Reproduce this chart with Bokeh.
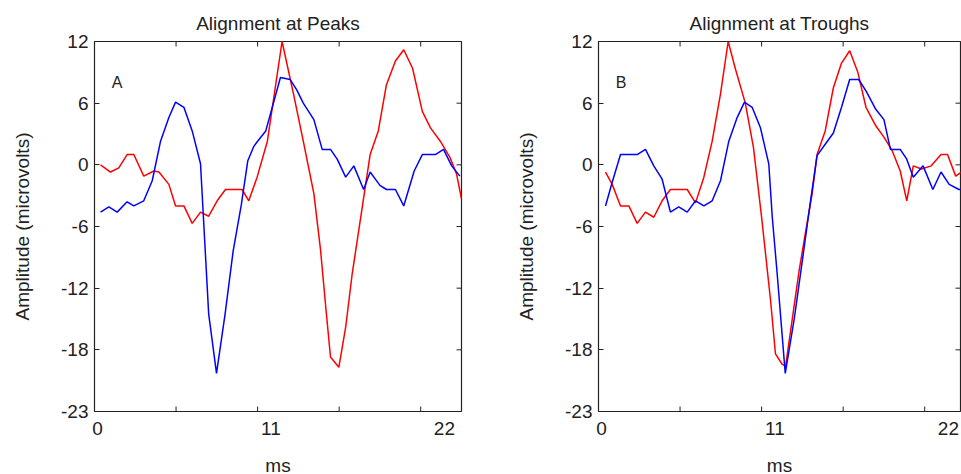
import math
from bokeh.plotting import figure
from bokeh.layouts import row
from bokeh.models import LinearAxis, Range1d, FixedTicker, Label
from bokeh.embed import file_html
from bokeh.resources import INLINE

# ---------------- data (ms, microvolts) ----------------
peaks_red_ms = [0.37, 0.98, 1.49, 2.00, 2.41, 3.02, 3.64, 3.95, 4.56, 4.97, 5.48, 5.99, 6.50, 7.00,
                7.52, 8.03, 9.05, 9.46, 9.97, 10.6, 11.5, 12.2, 12.8, 13.45, 13.86, 14.2, 14.47,
                14.98, 15.4, 15.8, 16.2, 16.9, 17.4, 17.9, 18.45, 18.96, 19.5, 20.1, 20.6, 21.2,
                21.8, 22.2, 22.5]
peaks_red_uv = [0.0, -0.7, -0.3, 1.0, 1.0, -1.1, -0.6, -0.7, -1.9, -4.0, -4.0, -5.7, -4.6, -5.0,
                -3.5, -2.4, -2.4, -3.5, -1.2, 2.3, 12.0, 6.9, 2.3, -2.8, -8.3, -14.2, -18.7,
                -19.7, -15.8, -10.6, -6.4, 1.0, 3.3, 7.8, 10.1, 11.2, 9.4, 5.2, 3.6, 2.3,
                0.7, -0.9, -3.3]

peaks_blue_ms = [0.37, 0.88, 1.39, 2.00, 2.41, 3.02, 3.54, 4.05, 4.56, 4.97, 5.48, 5.99, 6.50, 7.00,
                 7.48, 8.0, 8.5, 9.0, 9.4, 9.77, 10.0, 10.5, 10.9, 11.4, 12.0, 12.4, 12.8, 13.45,
                 13.96, 14.47, 14.88, 15.4, 15.9, 16.5, 16.9, 17.5, 17.9, 18.45, 18.96, 19.6,
                 20.1, 20.9, 21.4, 21.9, 22.4]
peaks_blue_uv = [-4.6, -4.1, -4.6, -3.6, -4.0, -3.5, -1.55, 2.3, 4.6, 6.1, 5.6, 3.3, 0.1, -14.5,
                 -20.3, -14.6, -8.4, -3.9, 0.4, 1.8, 2.3, 3.3, 5.6, 8.5, 8.3, 7.3, 6.0, 4.4,
                 1.5, 1.5, 0.55, -1.2, -0.1, -2.4, -0.7, -2.0, -2.4, -2.4, -4.0, -0.6,
                 1.0, 1.0, 1.5, -0.1, -1.1]

troughs_red_ms = [0.43, 0.84, 1.35, 1.86, 2.37, 2.88, 3.39, 3.90, 4.41, 5.44, 5.95, 6.46, 6.97,
                  7.48, 7.95, 8.4, 9.0, 9.5, 10.0, 10.55, 10.85, 11.26, 11.47, 11.9, 12.3, 12.7,
                  13.1, 13.4, 13.9, 14.4, 14.9, 15.4, 15.9, 16.4, 17.0, 17.5, 18.0, 18.5, 18.9,
                  19.3, 19.8, 20.4, 21.0, 21.4, 21.9, 22.25]
troughs_red_uv = [-0.7, -1.9, -4.0, -4.0, -5.7, -4.6, -5.1, -3.5, -2.4, -2.4, -3.7, -1.2, 2.3,
                  6.9, 12.0, 9.3, 6.0, 1.7, -5.1, -13.2, -18.4, -19.4, -19.6, -14.8, -10.3, -6.5,
                  -2.8, 1.0, 3.3, 7.5, 9.9, 11.1, 9.0, 5.6, 3.8, 2.7, 1.4, -0.6, -3.5,
                  -0.1, -0.4, -0.1, 1.0, 1.0, -1.1, -0.7]

troughs_blue_ms = [0.43, 0.84, 1.35, 2.37, 2.88, 3.39, 3.90, 4.41, 4.92, 5.44, 5.95, 6.46, 6.97,
                   7.48, 7.99, 8.5, 8.95, 9.42, 9.93, 10.44, 10.65, 10.95, 11.45, 12.0, 12.5, 13.0,
                   13.4, 13.9, 14.4, 14.9, 15.4, 15.95, 16.4, 17.0, 17.5, 17.9, 18.5, 18.9, 19.3,
                   19.9, 20.5, 21.0, 21.5, 22.1, 22.3]
troughs_blue_uv = [-4.0, -1.7, 1.0, 1.0, 1.5, -0.1, -1.4, -4.6, -4.1, -4.6, -3.5, -4.0, -3.5,
                   -1.55, 2.3, 4.6, 6.1, 5.6, 3.6, 0.1, -5.0, -10.5, -20.3, -15.0, -9.3, -3.5,
                   0.9, 2.0, 3.1, 5.6, 8.3, 8.3, 7.2, 5.4, 4.4, 1.5, 1.5, 0.55, -1.2,
                   -0.1, -2.4, -0.7, -1.9, -2.4, -2.4]

titles = ["Alignment at Peaks", "Alignment at Troughs"]
panel_letters = ["A", "B"]
y_ticks = [12, 6, 0, -6, -12, -18, -24]
y_tick_labels = ["12", "6", "0", "-6", "-12", "-18", "-23"]
x_plain_ticks = [5, 10, 15, 20]
x_label_ticks = [0, 11, 22]
x_label_text = ["0", "11", "22"]
y_label = "Amplitude (microvolts)"
x_label = "ms"

FONT = "Liberation Sans"
TXT = "#222222"
LINE = "#222222"
PX_PER_MS = 16.31
LAB_PX_PER_MS = 15.77
TICK_LEN = 5


def make_panel(title, letter, red_t, red_v, blue_t, blue_v, frame_w, b_left, b_right):
    x_end = frame_w / PX_PER_MS
    lab_start = -3 / LAB_PX_PER_MS
    lab_end = lab_start + frame_w / LAB_PX_PER_MS
    y_top, y_bot = y_ticks[0], y_ticks[-1]
    p = figure(frame_width=frame_w, frame_height=370,
               x_range=Range1d(0, x_end), y_range=Range1d(y_bot, y_top),
               x_axis_location=None, y_axis_location=None,
               toolbar_location=None, output_backend="svg",
               min_border_left=b_left, min_border_right=b_right,
               min_border_top=41, min_border_bottom=63, title=title)
    p.extra_x_ranges = {"lab": Range1d(lab_start, lab_end)}
    p.xgrid.grid_line_color = None
    p.ygrid.grid_line_color = None
    p.background_fill_color = "white"
    p.border_fill_color = "white"
    p.outline_line_color = LINE
    p.outline_line_width = 1.2

    p.title.align = "center"
    p.title.text_font = FONT
    p.title.text_font_size = "19px"
    p.title.text_font_style = "normal"
    p.title.text_color = TXT
    p.title.standoff = 15

    # left y axis with labels (inward ticks)
    yl = LinearAxis(ticker=FixedTicker(ticks=y_ticks, minor_ticks=[]),
                    major_label_overrides=dict(zip(y_ticks, y_tick_labels)))
    yl.major_tick_in = TICK_LEN
    yl.major_tick_out = 0
    yl.minor_tick_in = 0
    yl.minor_tick_out = 0
    yl.axis_line_color = None
    yl.major_tick_line_color = LINE
    yl.major_label_text_font = FONT
    yl.major_label_text_font_size = "19px"
    yl.major_label_text_color = TXT
    yl.major_label_standoff = 6
    yl.axis_label = y_label
    yl.axis_label_text_font = FONT
    yl.axis_label_text_font_size = "19px"
    yl.axis_label_text_font_style = "normal"
    yl.axis_label_text_color = TXT
    yl.axis_label_standoff = 25
    p.add_layout(yl, "left")

    # bottom labelled axis (labels only)
    xl = LinearAxis(x_range_name="lab", ticker=FixedTicker(ticks=x_label_ticks, minor_ticks=[]),
                    major_label_overrides=dict(zip(x_label_ticks, x_label_text)))
    xl.major_tick_in = 0
    xl.major_tick_out = 0
    xl.minor_tick_in = 0
    xl.minor_tick_out = 0
    xl.axis_line_color = None
    xl.major_label_text_font = FONT
    xl.major_label_text_font_size = "19px"
    xl.major_label_text_color = TXT
    xl.major_label_standoff = 10
    xl.axis_label = x_label
    xl.axis_label_text_font = FONT
    xl.axis_label_text_font_size = "19px"
    xl.axis_label_text_font_style = "normal"
    xl.axis_label_text_color = TXT
    xl.axis_label_standoff = 17
    p.add_layout(xl, "below")

    # inward tick marks on the other edges (dash markers clipped by the frame)
    n = len(x_plain_ticks)
    p.scatter(x_plain_ticks + x_plain_ticks, [y_top] * n + [y_bot] * n, marker="dash",
              size=2 * TICK_LEN, angle=math.pi / 2, line_color=LINE, line_width=1)
    p.scatter([x_end] * len(y_ticks), y_ticks, marker="dash",
              size=2 * TICK_LEN, line_color=LINE, line_width=1)

    p.line(red_t, red_v, line_color="#ff0000", line_width=1.5)
    p.line(blue_t, blue_v, line_color="#0000ff", line_width=1.5)

    p.add_layout(Label(x=1.05, y=8.0, text=letter, text_font=FONT, text_font_size="16px",
                       text_color=TXT, text_baseline="middle", text_align="left"))
    return p


p1 = make_panel(titles[0], panel_letters[0], peaks_red_ms, peaks_red_uv,
                peaks_blue_ms, peaks_blue_uv, 367, 94, 19)
p2 = make_panel(titles[1], panel_letters[1], troughs_red_ms, troughs_red_uv,
                troughs_blue_ms, troughs_blue_uv, 362, 118, 1)

layout = row(p1, p2)
open("out.html", "w").write(file_html(layout, INLINE))
